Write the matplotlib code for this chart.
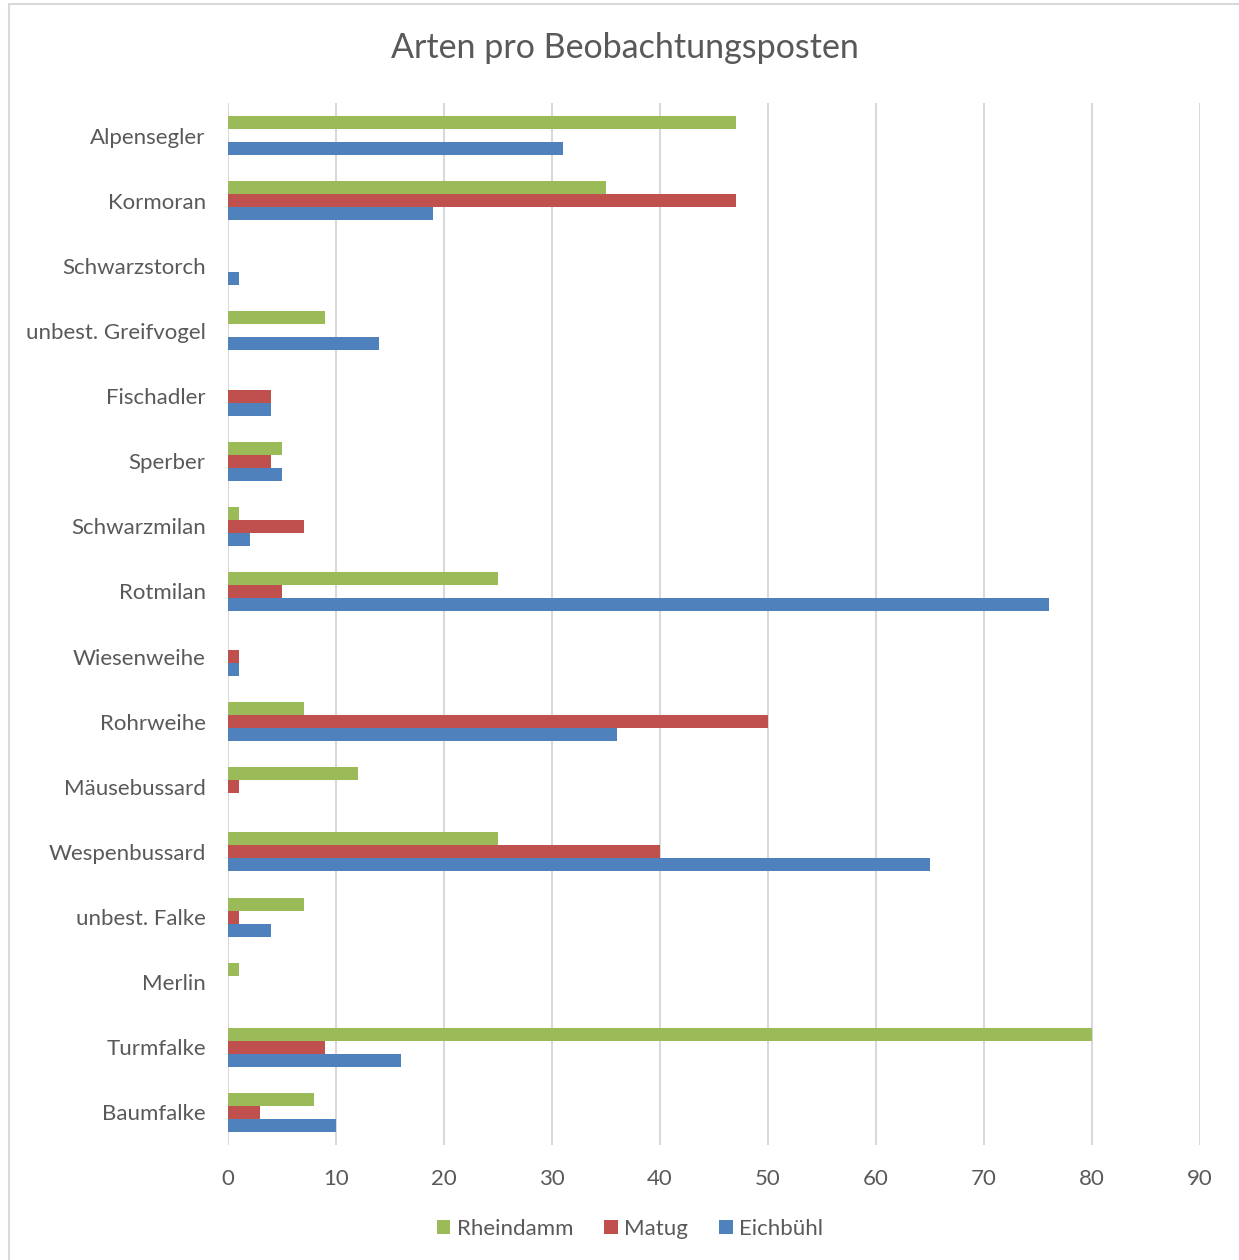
import matplotlib
matplotlib.use("Agg")
import matplotlib.pyplot as plt
import numpy as np
from matplotlib.patches import Rectangle

categories = ["Baumfalke", "Turmfalke", "Merlin", "unbest. Falke", "Wespenbussard",
              "Mäusebussard", "Rohrweihe", "Wiesenweihe", "Rotmilan", "Schwarzmilan",
              "Sperber", "Fischadler", "unbest. Greifvogel", "Schwarzstorch",
              "Kormoran", "Alpensegler"]
rheindamm = [8, 80, 1, 7, 25, 12, 7, 0, 25, 1, 5, 0, 9, 0, 35, 47]
matug     = [3, 9, 0, 1, 40, 1, 50, 1, 5, 7, 4, 4, 0, 0, 47, 0]
eichbuehl = [10, 16, 0, 4, 65, 0, 36, 1, 76, 2, 5, 4, 14, 1, 19, 31]
series_names = ["Rheindamm", "Matug", "Eichbühl"]
xticks = [0, 10, 20, 30, 40, 50, 60, 70, 80, 90]

plt.rcParams['font.family'] = ['Lato', 'DejaVu Sans']
text_color = "#595959"
colors = ["#9BBB59", "#C0504D", "#4F81BD"]

fig = plt.figure(figsize=(12.39, 12.60), dpi=100)
# chart frame
fig.patches.append(Rectangle((9/1239, -0.1), 1.2, 1 - 4/1260 + 0.1, transform=fig.transFigure,
                             fill=False, edgecolor="#d9d9d9", linewidth=1.5, zorder=0))

ax = fig.add_axes([228/1239, 1 - 1145/1260, (1200 - 228)/1239, (1145 - 103)/1260])
y = np.arange(len(categories))
h = 0.2
ax.barh(y + h, rheindamm, height=h, color=colors[0], linewidth=0, label=series_names[0], zorder=3)
ax.barh(y, matug, height=h, color=colors[1], linewidth=0, label=series_names[1], zorder=3)
ax.barh(y - h, eichbuehl, height=h, color=colors[2], linewidth=0, label=series_names[2], zorder=3)

ax.set_xlim(0, 90)
ax.set_ylim(-0.5, len(categories) - 0.5)
ax.set_xticks(xticks)
ax.set_yticks(y)
ax.set_yticklabels(categories)
ax.tick_params(axis='both', length=0, labelsize=16, labelcolor=text_color)
ax.tick_params(axis='y', pad=16)
ax.tick_params(axis='x', pad=17)
for s in ax.spines.values():
    s.set_visible(False)
ax.grid(axis='x', color="#d9d9d9", linewidth=1.5, zorder=0)
ax.set_axisbelow(True)

fig.text(625/1239, 1 - 48/1260, "Arten pro Beobachtungsposten", ha='center', va='center',
         fontsize=24.5, color=text_color)

leg = fig.legend(loc='center', bbox_to_anchor=(630/1239, 1 - 1229/1260), ncol=3, frameon=False,
                 fontsize=16, handlelength=0.6, handleheight=0.6, handletextpad=0.3,
                 columnspacing=1.4)
for t in leg.get_texts():
    t.set_color(text_color)

fig.savefig("out.png", dpi=100)
